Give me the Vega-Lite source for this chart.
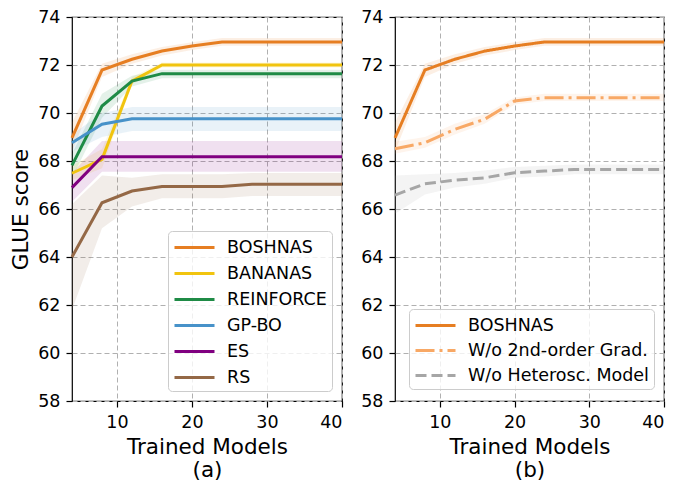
{
  "$schema": "https://vega.github.io/schema/vega-lite/v6.json",
  "padding": {"left": 10, "top": 7, "right": 4, "bottom": 2},
  "background": "white",
  "config": {
    "font": "DejaVu Sans",
    "view": {"stroke": "black", "strokeWidth": 1.2},
    "axis": {
      "labelFont": "DejaVu Sans", "labelFontSize": 17.5, "labelColor": "black",
      "titleFont": "DejaVu Sans", "titleFontSize": 21.5, "titleFontWeight": "normal", "titleColor": "black",
      "tickColor": "black", "tickSize": 6, "tickWidth": 1.2, "domain": false,
      "grid": true, "gridColor": "#b0b0b0", "gridDash": [5, 3], "gridWidth": 1, "labelPadding": 6
    },
    "legend": {
      "labelFont": "DejaVu Sans", "labelFontSize": 17.5, "labelColor": "black",
      "symbolType": "M-1,0H3", "symbolStrokeWidth": 3, "symbolSize": 400,
      "fillColor": "rgba(255,255,255,0.8)", "strokeColor": "#cccccc", "cornerRadius": 4,
      "padding": 5, "labelOffset": 31, "labelLimit": 400
    }
  },
  "datasets": {
    "a": [
      {"method": "BOSHNAS", "x": 4, "y": 68.96, "lo": 68.4, "hi": 69.6},
      {"method": "BOSHNAS", "x": 8, "y": 71.79, "lo": 71.5, "hi": 72.05},
      {"method": "BOSHNAS", "x": 12, "y": 72.24, "lo": 72.05, "hi": 72.45},
      {"method": "BOSHNAS", "x": 16, "y": 72.58, "lo": 72.4, "hi": 72.75},
      {"method": "BOSHNAS", "x": 20, "y": 72.79, "lo": 72.62, "hi": 72.95},
      {"method": "BOSHNAS", "x": 24, "y": 72.96, "lo": 72.8, "hi": 73.12},
      {"method": "BOSHNAS", "x": 28, "y": 72.96, "lo": 72.8, "hi": 73.12},
      {"method": "BOSHNAS", "x": 32, "y": 72.96, "lo": 72.8, "hi": 73.12},
      {"method": "BOSHNAS", "x": 36, "y": 72.96, "lo": 72.8, "hi": 73.12},
      {"method": "BOSHNAS", "x": 40, "y": 72.96, "lo": 72.8, "hi": 73.12},
      {"method": "BANANAS", "x": 4, "y": 67.49, "lo": 67.2, "hi": 67.8},
      {"method": "BANANAS", "x": 8, "y": 68.07, "lo": 67.7, "hi": 68.5},
      {"method": "BANANAS", "x": 12, "y": 71.33, "lo": 71.2, "hi": 71.5},
      {"method": "BANANAS", "x": 16, "y": 72.0, "lo": 71.9, "hi": 72.1},
      {"method": "BANANAS", "x": 20, "y": 72.0, "lo": 71.9, "hi": 72.1},
      {"method": "BANANAS", "x": 24, "y": 72.0, "lo": 71.9, "hi": 72.1},
      {"method": "BANANAS", "x": 28, "y": 72.0, "lo": 71.9, "hi": 72.1},
      {"method": "BANANAS", "x": 32, "y": 72.0, "lo": 71.9, "hi": 72.1},
      {"method": "BANANAS", "x": 36, "y": 72.0, "lo": 71.9, "hi": 72.1},
      {"method": "BANANAS", "x": 40, "y": 72.0, "lo": 71.9, "hi": 72.1},
      {"method": "REINFORCE", "x": 4, "y": 67.82, "lo": 67.3, "hi": 68.3},
      {"method": "REINFORCE", "x": 8, "y": 70.29, "lo": 69.8, "hi": 70.8},
      {"method": "REINFORCE", "x": 12, "y": 71.33, "lo": 71.1, "hi": 71.55},
      {"method": "REINFORCE", "x": 16, "y": 71.64, "lo": 71.45, "hi": 71.8},
      {"method": "REINFORCE", "x": 20, "y": 71.64, "lo": 71.45, "hi": 71.8},
      {"method": "REINFORCE", "x": 24, "y": 71.64, "lo": 71.45, "hi": 71.8},
      {"method": "REINFORCE", "x": 28, "y": 71.64, "lo": 71.45, "hi": 71.8},
      {"method": "REINFORCE", "x": 32, "y": 71.64, "lo": 71.45, "hi": 71.8},
      {"method": "REINFORCE", "x": 36, "y": 71.64, "lo": 71.45, "hi": 71.8},
      {"method": "REINFORCE", "x": 40, "y": 71.64, "lo": 71.45, "hi": 71.8},
      {"method": "GP-BO", "x": 4, "y": 68.76, "lo": 68.4, "hi": 69.1},
      {"method": "GP-BO", "x": 8, "y": 69.53, "lo": 69.0, "hi": 70.0},
      {"method": "GP-BO", "x": 12, "y": 69.76, "lo": 69.25, "hi": 70.25},
      {"method": "GP-BO", "x": 16, "y": 69.76, "lo": 69.25, "hi": 70.25},
      {"method": "GP-BO", "x": 20, "y": 69.76, "lo": 69.25, "hi": 70.25},
      {"method": "GP-BO", "x": 24, "y": 69.76, "lo": 69.25, "hi": 70.25},
      {"method": "GP-BO", "x": 28, "y": 69.76, "lo": 69.25, "hi": 70.25},
      {"method": "GP-BO", "x": 32, "y": 69.76, "lo": 69.25, "hi": 70.25},
      {"method": "GP-BO", "x": 36, "y": 69.76, "lo": 69.25, "hi": 70.25},
      {"method": "GP-BO", "x": 40, "y": 69.76, "lo": 69.25, "hi": 70.25},
      {"method": "ES", "x": 4, "y": 66.89, "lo": 66.3, "hi": 67.5},
      {"method": "ES", "x": 8, "y": 68.18, "lo": 67.55, "hi": 68.83},
      {"method": "ES", "x": 12, "y": 68.18, "lo": 67.55, "hi": 68.83},
      {"method": "ES", "x": 16, "y": 68.18, "lo": 67.55, "hi": 68.83},
      {"method": "ES", "x": 20, "y": 68.18, "lo": 67.55, "hi": 68.83},
      {"method": "ES", "x": 24, "y": 68.18, "lo": 67.55, "hi": 68.83},
      {"method": "ES", "x": 28, "y": 68.18, "lo": 67.55, "hi": 68.83},
      {"method": "ES", "x": 32, "y": 68.18, "lo": 67.55, "hi": 68.83},
      {"method": "ES", "x": 36, "y": 68.18, "lo": 67.55, "hi": 68.83},
      {"method": "ES", "x": 40, "y": 68.18, "lo": 67.55, "hi": 68.83},
      {"method": "RS", "x": 4, "y": 64.0, "lo": 61.8, "hi": 66.2},
      {"method": "RS", "x": 8, "y": 66.26, "lo": 65.2, "hi": 67.4},
      {"method": "RS", "x": 12, "y": 66.75, "lo": 66.1, "hi": 67.3},
      {"method": "RS", "x": 16, "y": 66.94, "lo": 66.45, "hi": 67.45},
      {"method": "RS", "x": 20, "y": 66.94, "lo": 66.45, "hi": 67.45},
      {"method": "RS", "x": 24, "y": 66.94, "lo": 66.45, "hi": 67.45},
      {"method": "RS", "x": 28, "y": 67.03, "lo": 66.54, "hi": 67.5},
      {"method": "RS", "x": 32, "y": 67.03, "lo": 66.54, "hi": 67.5},
      {"method": "RS", "x": 36, "y": 67.03, "lo": 66.54, "hi": 67.5},
      {"method": "RS", "x": 40, "y": 67.03, "lo": 66.54, "hi": 67.5}
    ],
    "b": [
      {"method": "BOSHNAS", "x": 4, "y": 68.96, "lo": 68.4, "hi": 69.6},
      {"method": "BOSHNAS", "x": 8, "y": 71.79, "lo": 71.5, "hi": 72.05},
      {"method": "BOSHNAS", "x": 12, "y": 72.24, "lo": 72.05, "hi": 72.45},
      {"method": "BOSHNAS", "x": 16, "y": 72.58, "lo": 72.4, "hi": 72.75},
      {"method": "BOSHNAS", "x": 20, "y": 72.79, "lo": 72.62, "hi": 72.95},
      {"method": "BOSHNAS", "x": 24, "y": 72.96, "lo": 72.8, "hi": 73.12},
      {"method": "BOSHNAS", "x": 28, "y": 72.96, "lo": 72.8, "hi": 73.12},
      {"method": "BOSHNAS", "x": 32, "y": 72.96, "lo": 72.8, "hi": 73.12},
      {"method": "BOSHNAS", "x": 36, "y": 72.96, "lo": 72.8, "hi": 73.12},
      {"method": "BOSHNAS", "x": 40, "y": 72.96, "lo": 72.8, "hi": 73.12},
      {"method": "W/o 2nd-order Grad.", "x": 4, "y": 68.51, "lo": 68.3, "hi": 68.8},
      {"method": "W/o 2nd-order Grad.", "x": 8, "y": 68.76, "lo": 68.55, "hi": 69.0},
      {"method": "W/o 2nd-order Grad.", "x": 12, "y": 69.32, "lo": 69.1, "hi": 69.55},
      {"method": "W/o 2nd-order Grad.", "x": 16, "y": 69.74, "lo": 69.55, "hi": 69.95},
      {"method": "W/o 2nd-order Grad.", "x": 20, "y": 70.5, "lo": 70.35, "hi": 70.65},
      {"method": "W/o 2nd-order Grad.", "x": 24, "y": 70.64, "lo": 70.5, "hi": 70.8},
      {"method": "W/o 2nd-order Grad.", "x": 28, "y": 70.64, "lo": 70.5, "hi": 70.8},
      {"method": "W/o 2nd-order Grad.", "x": 32, "y": 70.64, "lo": 70.5, "hi": 70.8},
      {"method": "W/o 2nd-order Grad.", "x": 36, "y": 70.64, "lo": 70.5, "hi": 70.8},
      {"method": "W/o 2nd-order Grad.", "x": 40, "y": 70.64, "lo": 70.5, "hi": 70.8},
      {"method": "W/o Heterosc. Model", "x": 4, "y": 66.58, "lo": 65.8, "hi": 67.4},
      {"method": "W/o Heterosc. Model", "x": 8, "y": 67.05, "lo": 66.6, "hi": 67.45},
      {"method": "W/o Heterosc. Model", "x": 12, "y": 67.2, "lo": 66.9, "hi": 67.5},
      {"method": "W/o Heterosc. Model", "x": 16, "y": 67.3, "lo": 67.05, "hi": 67.6},
      {"method": "W/o Heterosc. Model", "x": 20, "y": 67.51, "lo": 67.3, "hi": 67.75},
      {"method": "W/o Heterosc. Model", "x": 24, "y": 67.58, "lo": 67.35, "hi": 67.8},
      {"method": "W/o Heterosc. Model", "x": 28, "y": 67.65, "lo": 67.45, "hi": 67.85},
      {"method": "W/o Heterosc. Model", "x": 32, "y": 67.65, "lo": 67.45, "hi": 67.85},
      {"method": "W/o Heterosc. Model", "x": 36, "y": 67.65, "lo": 67.45, "hi": 67.85},
      {"method": "W/o Heterosc. Model", "x": 40, "y": 67.65, "lo": 67.45, "hi": 67.85}
    ]
  },
  "spacing": 53,
  "bounds": "flush",
  "resolve": {"scale": {"color": "independent", "strokeDash": "independent"}, "legend": {"color": "independent", "strokeDash": "independent"}},
  "hconcat": [
    {
      "width": 270, "height": 384,
      "data": {"name": "a"},
      "encoding": {
        "x": {"field": "x", "type": "quantitative", "scale": {"domain": [4, 40], "nice": false, "zero": false},
              "axis": {"values": [10, 20, 30, 40], "title": ["Trained Models", "(a)"], "titleLineHeight": 23, "titlePadding": 6}}
      },
      "resolve": {"legend": {"color": "independent"}},
      "layer": [
        {
          "mark": {"type": "area", "opacity": 0.12},
          "encoding": {
            "y": {"field": "lo", "type": "quantitative", "scale": {"domain": [58, 74], "nice": false, "zero": false},
                  "axis": {"values": [58, 60, 62, 64, 66, 68, 70, 72, 74], "title": "GLUE score", "titlePadding": 5}},
            "y2": {"field": "hi"},
            "color": {"field": "method", "type": "nominal",
                      "scale": {"domain": ["BOSHNAS", "BANANAS", "REINFORCE", "GP-BO", "ES", "RS"],
                                "range": ["#e67e22", "#f1c40f", "#1f8b46", "#4792c9", "#800080", "#946846"]},
                      "legend": null}
          }
        },
        {
          "mark": {"type": "line", "strokeWidth": 3},
          "encoding": {
            "y": {"field": "y", "type": "quantitative"},
            "color": {"field": "method", "type": "nominal",
                      "legend": {"orient": "none", "legendX": 96, "legendY": 214, "title": null, "rowPadding": 6,
                                 "labelFont": "DejaVu Sans", "labelFontSize": 17.5, "labelOffset": 31}}
          }
        }
      ]
    },
    {
      "width": 269, "height": 384,
      "data": {"name": "b"},
      "encoding": {
        "x": {"field": "x", "type": "quantitative", "scale": {"domain": [4, 40], "nice": false, "zero": false},
              "axis": {"values": [10, 20, 30, 40], "title": ["Trained Models", "(b)"], "titleLineHeight": 23, "titlePadding": 6}}
      },
      "resolve": {"legend": {"color": "independent", "strokeDash": "independent"}},
      "layer": [
        {
          "mark": {"type": "area", "opacity": 0.12},
          "encoding": {
            "y": {"field": "lo", "type": "quantitative", "scale": {"domain": [58, 74], "nice": false, "zero": false},
                  "axis": {"values": [58, 60, 62, 64, 66, 68, 70, 72, 74], "title": null}},
            "y2": {"field": "hi"},
            "color": {"field": "method", "type": "nominal",
                      "scale": {"domain": ["BOSHNAS", "W/o 2nd-order Grad.", "W/o Heterosc. Model"],
                                "range": ["#e67e22", "#f8a865", "#a6a6a6"]},
                      "legend": null}
          }
        },
        {
          "mark": {"type": "line", "strokeWidth": 3},
          "encoding": {
            "y": {"field": "y", "type": "quantitative"},
            "color": {"field": "method", "type": "nominal",
                      "legend": {"orient": "none", "legendX": 14, "legendY": 292, "title": null, "rowPadding": 5,
                                 "labelFont": "DejaVu Sans", "labelFontSize": 17.5, "labelOffset": 31}},
            "strokeDash": {"field": "method", "type": "nominal",
                           "scale": {"domain": ["BOSHNAS", "W/o 2nd-order Grad.", "W/o Heterosc. Model"],
                                     "range": [[1, 0], [19, 5, 3, 5], [11, 5]]},
                           "legend": {"orient": "none", "legendX": 14, "legendY": 292, "title": null, "rowPadding": 5,
                                      "labelFont": "DejaVu Sans", "labelFontSize": 17.5, "labelOffset": 31}}
          }
        }
      ]
    }
  ]
}
